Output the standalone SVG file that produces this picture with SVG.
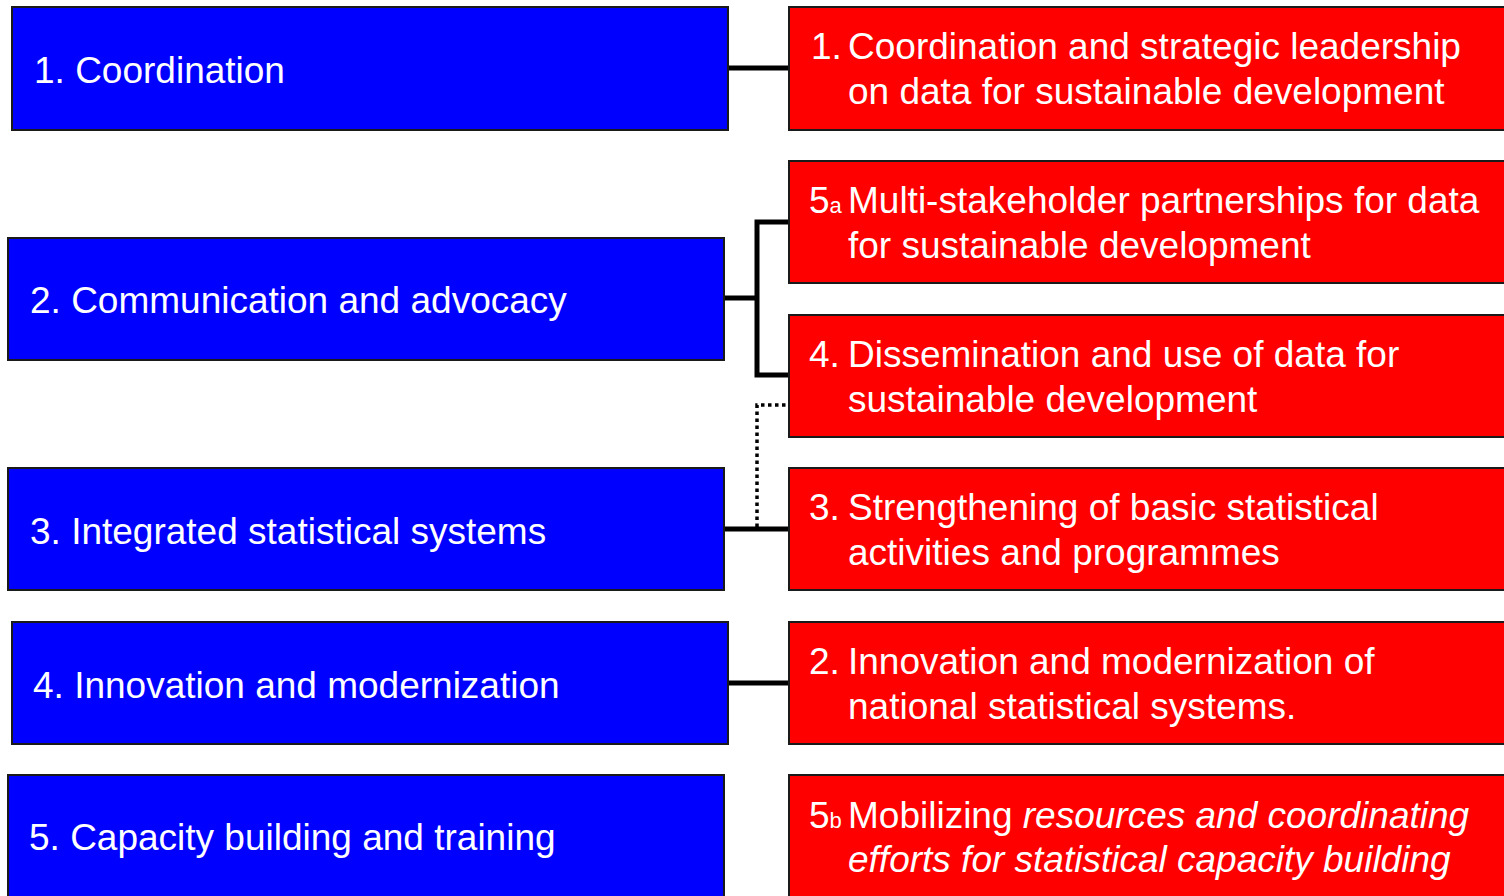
<svg xmlns="http://www.w3.org/2000/svg" width="1504" height="896" viewBox="0 0 1504 896">
<defs>
<style>
.blue{fill:#0000FF;stroke:#1a1a1a;stroke-width:2}
.red{fill:#FF0000;stroke:#1a1a1a;stroke-width:2}
text{font-family:"Liberation Sans",Arial,sans-serif;font-size:37px;fill:#FFFFFF}
.sub{font-size:22px}
.it{font-style:italic}
.conn{fill:none;stroke:#000;stroke-width:5}
.dot{fill:none;stroke:#000;stroke-width:3.5;stroke-dasharray:3.5 3.5}
</style>
</defs>
<rect width="1504" height="896" fill="#FFFFFF"/>
<g id="connectors">
<line class="conn" x1="728" y1="68" x2="790" y2="68"/>
<polyline class="conn" points="724,298 757,298"/>
<polyline class="conn" points="790,222 757,222 757,375 790,375"/>
<polyline class="dot" points="757,527 757,405 790,405"/>
<line class="conn" x1="724" y1="529" x2="790" y2="529"/>
<line class="conn" x1="728" y1="683" x2="790" y2="683"/>
</g>
<g id="b1"><rect class="blue" x="12" y="7" width="716" height="123"/><text x="34" y="83">1. Coordination</text></g>
<g id="b2"><rect class="blue" x="8" y="238" width="716" height="122"/><text x="30" y="313">2. Communication and advocacy</text></g>
<g id="b3"><rect class="blue" x="8" y="468" width="716" height="122"/><text x="30" y="544">3. Integrated statistical systems</text></g>
<g id="b4"><rect class="blue" x="12" y="622" width="716" height="122"/><text x="33" y="698">4. Innovation and modernization</text></g>
<g id="b5"><rect class="blue" x="8" y="775" width="716" height="130"/><text x="29" y="850">5. Capacity building and training</text></g>
<g id="r1"><rect class="red" x="789" y="7" width="725" height="123"/><text x="811" y="59">1.<tspan x="848">Coordination and strategic leadership</tspan></text><text x="848" y="104">on data for sustainable development</text></g>
<g id="r5a"><rect class="red" x="789" y="161" width="725" height="122"/><text x="809" y="213">5<tspan class="sub">a</tspan><tspan x="848">Multi-stakeholder partnerships for data</tspan></text><text x="848" y="258">for sustainable development</text></g>
<g id="r4"><rect class="red" x="789" y="315" width="725" height="122"/><text x="809" y="367">4.<tspan x="848">Dissemination and use of data for</tspan></text><text x="848" y="412">sustainable development</text></g>
<g id="r3"><rect class="red" x="789" y="468" width="725" height="122"/><text x="809" y="520">3.<tspan x="848">Strengthening of basic statistical</tspan></text><text x="848" y="565">activities and programmes</text></g>
<g id="r2"><rect class="red" x="789" y="622" width="725" height="122"/><text x="809" y="674">2.<tspan x="848">Innovation and modernization of</tspan></text><text x="848" y="719">national statistical systems.</text></g>
<g id="r5b"><rect class="red" x="789" y="775" width="725" height="130"/><text x="809" y="828">5<tspan class="sub">b</tspan><tspan x="848">Mobilizing </tspan><tspan class="it">resources and coordinating</tspan></text><text x="848" y="872" class="it">efforts for statistical capacity building</text></g>
</svg>
